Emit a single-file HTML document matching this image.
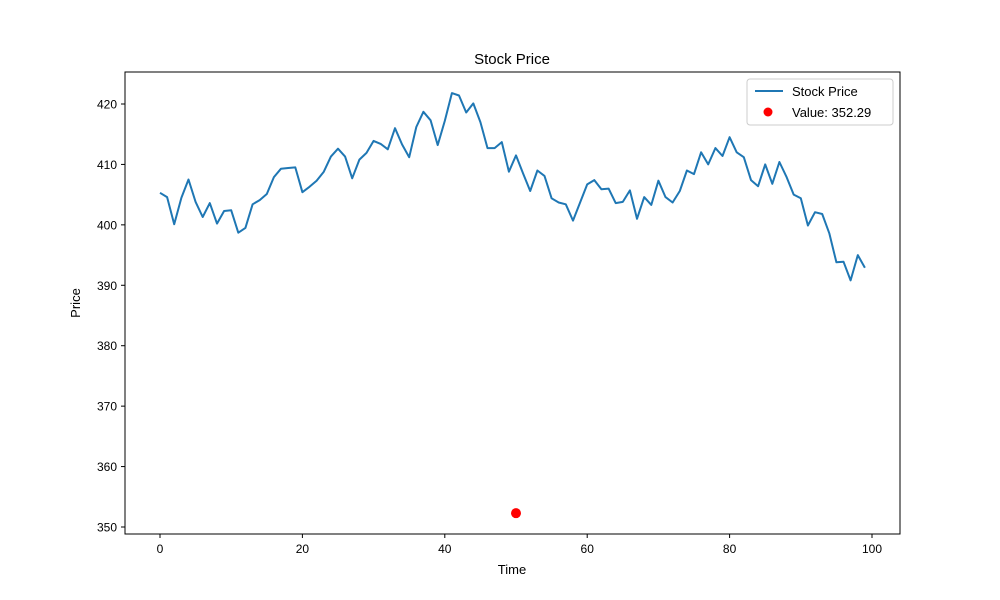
<!DOCTYPE html>
<html><head><meta charset="utf-8"><style>
body{margin:0;background:#fff;}
svg{display:block;font-family:"Liberation Sans","DejaVu Sans",sans-serif;}
</style></head><body>
<svg id="chart" width="1000" height="600" viewBox="0 0 1000 600">
<rect width="1000" height="600" fill="#fff"/>
<text x="512" y="64" font-size="15" text-anchor="middle">Stock Price</text>
<g id="xt"></g><g id="yt"></g>
<path id="line" fill="none" stroke="#1f77b4" stroke-width="2" stroke-linejoin="round"/>
<circle id="pt" r="5" fill="red"/>
<rect x="125" y="72" width="775" height="462" fill="none" stroke="#000" stroke-width="1"/>
<text x="512" y="574" font-size="13" text-anchor="middle">Time</text>
<text x="80" y="303" font-size="13" text-anchor="middle" transform="rotate(-90 80 303)">Price</text>
<g>
<rect x="747" y="79" width="146" height="46" rx="3" fill="#fff" stroke="#ccc"/>
<line x1="755" y1="91" x2="783" y2="91" stroke="#1f77b4" stroke-width="2"/>
<text x="792" y="96" font-size="13">Stock Price</text>
<circle cx="768" cy="112" r="4.5" fill="red"/>
<text id="lv" x="792" y="117" font-size="13"></text>
</g>
</svg>
<script>
const prices=[405.3,404.6,400.1,404.5,407.5,403.8,401.3,403.6,400.2,402.3,402.4,398.7,399.5,403.4,404.1,405.1,407.9,409.3,409.4,409.5,405.4,406.3,407.3,408.8,411.3,412.6,411.3,407.7,410.8,411.9,413.9,413.4,412.5,416.0,413.3,411.2,416.2,418.7,417.3,413.2,417.2,421.8,421.4,418.6,420.1,417.0,412.7,412.7,413.7,408.8,411.5,408.5,405.6,409.0,408.1,404.4,403.7,403.4,400.7,403.7,406.7,407.4,405.9,406.0,403.6,403.8,405.7,401.0,404.6,403.3,407.3,404.6,403.7,405.6,409.0,408.4,412.0,410.0,412.7,411.4,414.5,412.0,411.2,407.4,406.4,410.0,406.8,410.4,407.9,405.0,404.4,399.9,402.1,401.8,398.6,393.8,393.9,390.8,395.0,392.9];
const pointX=[50];
const pointY=[352.29];
const xTicks=[0,20,40,60,80,100];
const yTicks=[350,360,370,380,390,400,410,420];
const X=v=>160+v*7.12;
const Y=v=>527-(v-350)*6.043;
const ns="http://www.w3.org/2000/svg";
document.getElementById('line').setAttribute('d',prices.map((p,i)=>(i?'L':'M')+X(i).toFixed(1)+' '+Y(p).toFixed(1)).join(''));
const pt=document.getElementById('pt');pt.setAttribute('cx',X(pointX[0]));pt.setAttribute('cy',Y(pointY[0]));
document.getElementById('lv').textContent='Value: '+pointY[0].toFixed(2);
const xt=document.getElementById('xt'),yt=document.getElementById('yt');
xTicks.forEach(t=>{
 const l=document.createElementNS(ns,'line');l.setAttribute('x1',X(t));l.setAttribute('x2',X(t));l.setAttribute('y1',534);l.setAttribute('y2',538);l.setAttribute('stroke','#000');
 
 
 xt.appendChild(l);
 const s=document.createElementNS(ns,'text');s.setAttribute('x',X(t));s.setAttribute('y',553);s.setAttribute('font-size','12');s.setAttribute('text-anchor','middle');s.textContent=t;
 
 
 xt.appendChild(s);
});
yTicks.forEach(t=>{
 const l=document.createElementNS(ns,'line');l.setAttribute('x1',121);l.setAttribute('x2',125);l.setAttribute('y1',Y(t));l.setAttribute('y2',Y(t));l.setAttribute('stroke','#000');
 
 
 yt.appendChild(l);
 const s=document.createElementNS(ns,'text');s.setAttribute('x',117);s.setAttribute('y',Y(t)+4.5);s.setAttribute('font-size','12');s.setAttribute('text-anchor','end');s.textContent=t;
 
 
 yt.appendChild(s);
});
</script>
</body></html>
